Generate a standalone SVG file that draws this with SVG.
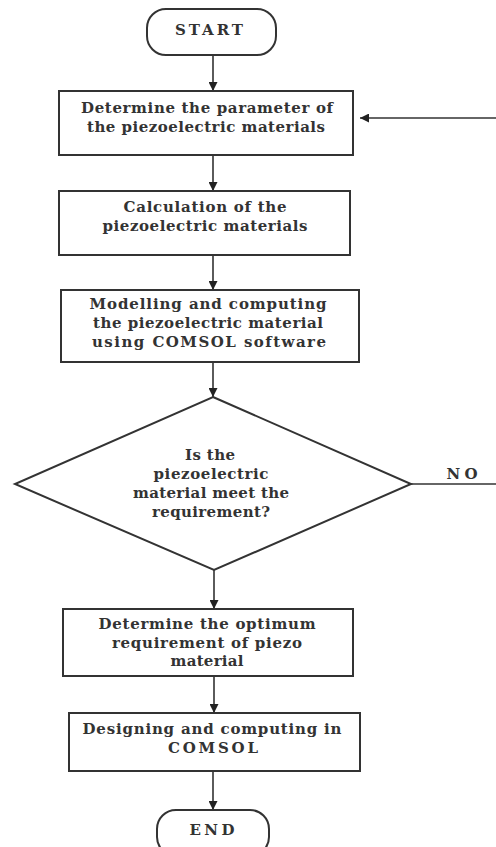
<svg xmlns="http://www.w3.org/2000/svg" width="496" height="847" viewBox="0 0 496 847">
<defs>
<marker id="ah" viewBox="0 0 10 10" refX="10" refY="5" markerWidth="9" markerHeight="9" markerUnits="userSpaceOnUse" orient="auto">
<path d="M0,0 L10,5 L0,10 z" fill="#222"/>
</marker>
<style>
.shape{fill:#fff;stroke:#333;stroke-width:2}
.t{font-family:"DejaVu Serif","Liberation Serif",serif;font-size:15px;font-weight:bold;fill:#333;text-anchor:middle}
.c{stroke:#333;stroke-width:1.6;fill:none}
.ca{stroke:#333;stroke-width:1.6;fill:none;marker-end:url(#ah)}
</style>
</defs>
<rect width="496" height="847" fill="#fff"/>
<g id="connectors">
<line class="ca" x1="213" y1="56" x2="213" y2="91"/>
<line class="ca" x1="213" y1="155" x2="213" y2="191"/>
<line class="ca" x1="213" y1="255" x2="213" y2="290"/>
<line class="ca" x1="213" y1="362" x2="213" y2="397"/>
<line class="ca" x1="214" y1="570" x2="214" y2="609"/>
<line class="ca" x1="214" y1="676" x2="214" y2="713"/>
<line class="ca" x1="213" y1="771" x2="213" y2="810"/>
<line class="ca" x1="496" y1="118" x2="360" y2="118"/>
<line class="c" x1="411" y1="484" x2="496" y2="484"/>
<text class="t" x="462" y="479" textLength="31" lengthAdjust="spacing">NO</text>
</g>
<g id="start">
<rect class="shape" x="147" y="9" width="129" height="46" rx="19"/>
<text class="t" x="209" y="35" textLength="68" lengthAdjust="spacing">START</text>
</g>
<g id="box1">
<rect class="shape" x="59" y="91" width="294" height="64"/>
<text class="t" x="207" y="113" textLength="252" lengthAdjust="spacing">Determine the parameter of</text>
<text class="t" x="206" y="132" textLength="238" lengthAdjust="spacing">the piezoelectric materials</text>
</g>
<g id="box2">
<rect class="shape" x="59" y="191" width="291" height="64"/>
<text class="t" x="205" y="212" textLength="163" lengthAdjust="spacing">Calculation of the</text>
<text class="t" x="205" y="231" textLength="205" lengthAdjust="spacing">piezoelectric materials</text>
</g>
<g id="box3">
<rect class="shape" x="61" y="290" width="298" height="72"/>
<text class="t" x="208" y="309" textLength="237" lengthAdjust="spacing">Modelling and computing</text>
<text class="t" x="208" y="328" textLength="230" lengthAdjust="spacing">the piezoelectric material</text>
<text class="t" x="209" y="347" textLength="234" lengthAdjust="spacing">using COMSOL software</text>
</g>
<g id="decision">
<polygon class="shape" points="213,397 411,484 214,570 15,484"/>
<text class="t" x="210" y="460" textLength="50" lengthAdjust="spacing">Is the</text>
<text class="t" x="211" y="479" textLength="115" lengthAdjust="spacing">piezoelectric</text>
<text class="t" x="211" y="498" textLength="156" lengthAdjust="spacing">material meet the</text>
<text class="t" x="211" y="517" textLength="118" lengthAdjust="spacing">requirement?</text>
</g>
<g id="box4">
<rect class="shape" x="63" y="609" width="290" height="67"/>
<text class="t" x="207" y="629" textLength="217" lengthAdjust="spacing">Determine the optimum</text>
<text class="t" x="207" y="648" textLength="190" lengthAdjust="spacing">requirement of piezo</text>
<text class="t" x="207" y="666" textLength="73" lengthAdjust="spacing">material</text>
</g>
<g id="box5">
<rect class="shape" x="69" y="713" width="291" height="58"/>
<text class="t" x="212" y="734" textLength="259" lengthAdjust="spacing">Designing and computing in</text>
<text class="t" x="213" y="753" textLength="90" lengthAdjust="spacing">COMSOL</text>
</g>
<g id="end">
<rect class="shape" x="157" y="810" width="112" height="46" rx="19"/>
<text class="t" x="212" y="835" textLength="45" lengthAdjust="spacing">END</text>
</g>
</svg>
